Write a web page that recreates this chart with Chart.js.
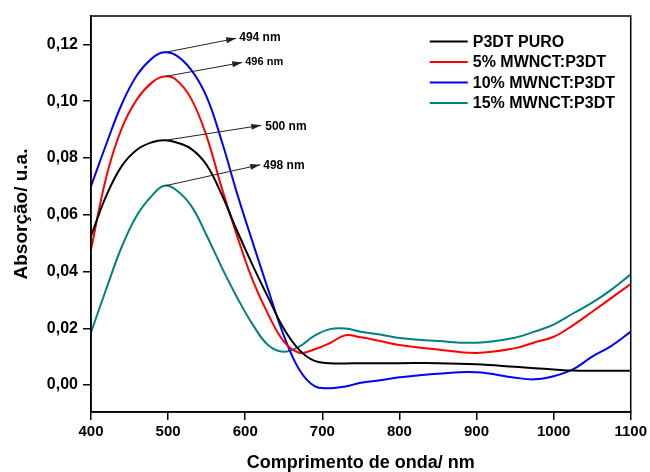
<!DOCTYPE html>
<html>
<head>
<meta charset="utf-8">
<script src="https://cdn.jsdelivr.net/npm/chart.js@4.4.1/dist/chart.umd.min.js"></script>
<style>
  html, body { margin: 0; padding: 0; background: #fff; }
  #wrap { width: 650px; height: 472px; }
</style>
</head>
<body>
<div id="wrap"><canvas id="myChart" width="650" height="472"></canvas></div>
<script>
// wavelength grid (nm) shared by all spectra
const wavelength = [400, 420, 440, 460, 480, 495, 510, 530, 550, 570, 590, 610, 630, 650, 670, 690, 710, 730, 750, 775, 800, 850, 900, 950, 975, 1000, 1025, 1050, 1075, 1100]

const p3dtPuro = [0.0525, 0.0668, 0.0772, 0.0830, 0.0856, 0.0862, 0.0855, 0.0832, 0.0775, 0.0668, 0.0540, 0.0420, 0.0307, 0.0199, 0.0124, 0.0085, 0.0077, 0.0076, 0.0077, 0.0077, 0.0077, 0.0077, 0.0073, 0.0064, 0.0059, 0.0055, 0.0051, 0.0050, 0.0050, 0.0050]
const mwnct5 = [0.0477, 0.0735, 0.0905, 0.1008, 0.1068, 0.1087, 0.1076, 0.1008, 0.0876, 0.0690, 0.0521, 0.0367, 0.0248, 0.0154, 0.0114, 0.0126, 0.0148, 0.0175, 0.0168, 0.0155, 0.0141, 0.0125, 0.0113, 0.0130, 0.0150, 0.0170, 0.0210, 0.0258, 0.0307, 0.0356]
const mwnct10 = [0.0700, 0.0850, 0.0990, 0.1093, 0.1153, 0.1172, 0.1162, 0.1110, 0.1015, 0.0855, 0.0670, 0.0500, 0.0334, 0.0175, 0.0055, -0.0004, -0.0011, -0.0005, 0.0008, 0.0017, 0.0027, 0.0040, 0.0045, 0.0026, 0.0020, 0.0031, 0.0055, 0.0100, 0.0138, 0.0188]
const mwnct15 = [0.0185, 0.0340, 0.0488, 0.0600, 0.0670, 0.0702, 0.0688, 0.0631, 0.0527, 0.0412, 0.0306, 0.0212, 0.0140, 0.0117, 0.0135, 0.0174, 0.0197, 0.0199, 0.0188, 0.0178, 0.0166, 0.0155, 0.0149, 0.0167, 0.0188, 0.0213, 0.0252, 0.0290, 0.0336, 0.0390]

const seriesNames = ['P3DT PURO', '5% MWNCT:P3DT', '10% MWNCT:P3DT', '15% MWNCT:P3DT']
const seriesColors = ['#000000', '#ff0000', '#0000ff', '#008080']
const peakLabels = ['500 nm', '496 nm', '494 nm', '498 nm']

const xTicks = [400, 500, 600, 700, 800, 900, 1000, 1100]
const yTicks = [0, 0.02, 0.04, 0.06, 0.08, 0.10, 0.12]

function toPoints(values){
  return values.map((v, i) => ({x: wavelength[i], y: v}))
}

const allSeries = [p3dtPuro, mwnct5, mwnct10, mwnct15]

// frame around plot area
const framePlugin = {
  id: 'frame',
  afterDraw(chart){
    const {ctx, chartArea} = chart
    ctx.save()
    ctx.strokeStyle = '#000'
    ctx.lineWidth = 1.5
    ctx.strokeRect(chartArea.left, chartArea.top, chartArea.right - chartArea.left, chartArea.bottom - chartArea.top)
    ctx.restore()
  }
}

// peak arrows + labels
const arrowOffsets = [[97, -15, 101, -14, 12], [78, -14, 81, -14, 11], [72, -14, 75, -15, 12], [96, -21, 99, -20, 12]]
const peakPlugin = {
  id: 'peaks',
  afterDatasetsDraw(chart){
    const ctx = chart.ctx
    ctx.save()
    allSeries.forEach((vals, i) => {
      const idx = vals.indexOf(Math.max(...vals))
      const pt = chart.getDatasetMeta(i).data[idx]
      const o = arrowOffsets[i]
      const x0 = pt.x + 1, y0 = pt.y
      const x1 = pt.x + o[0], y1 = pt.y + o[1]
      ctx.strokeStyle = '#222'
      ctx.fillStyle = '#222'
      ctx.lineWidth = 1
      ctx.beginPath()
      ctx.moveTo(x0, y0)
      ctx.lineTo(x1, y1)
      ctx.stroke()
      const ang = Math.atan2(y1 - y0, x1 - x0)
      ctx.beginPath()
      ctx.moveTo(x1, y1)
      ctx.lineTo(x1 - 10 * Math.cos(ang) + 3 * Math.sin(ang), y1 - 10 * Math.sin(ang) - 3 * Math.cos(ang))
      ctx.lineTo(x1 - 10 * Math.cos(ang) - 3 * Math.sin(ang), y1 - 10 * Math.sin(ang) + 3 * Math.cos(ang))
      ctx.closePath()
      ctx.fill()
      ctx.fillStyle = '#000'
      ctx.font = 'bold ' + o[4] + 'px Arial, "Liberation Sans", sans-serif'
      ctx.textBaseline = 'middle'
      ctx.textAlign = 'left'
      ctx.fillText(peakLabels[i], pt.x + o[2], pt.y + o[3])
    })
    ctx.restore()
  }
}

// legend inside top-right of the plot
const legendPlugin = {
  id: 'insideLegend',
  afterDraw(chart){
    const {ctx, chartArea} = chart
    ctx.save()
    chart.data.datasets.forEach((ds, i) => {
      const y = chartArea.top + 25.5 + i * 20.5
      ctx.strokeStyle = ds.borderColor
      ctx.lineWidth = 2
      ctx.beginPath()
      ctx.moveTo(chartArea.right - 201, y)
      ctx.lineTo(chartArea.right - 163, y)
      ctx.stroke()
      ctx.fillStyle = '#000'
      ctx.font = 'bold 16px Arial, "Liberation Sans", sans-serif'
      ctx.textBaseline = 'middle'
      ctx.textAlign = 'left'
      ctx.fillText(ds.label, chartArea.right - 158, y + 1)
    })
    ctx.restore()
  }
}

const ctx = document.getElementById('myChart')

new Chart(ctx, {
  type: 'line',
  data: {
    datasets: allSeries.map((vals, i) => ({
      label: seriesNames[i],
      data: toPoints(vals),
      borderColor: seriesColors[i],
      backgroundColor: seriesColors[i],
      borderWidth: 2,
      pointRadius: 0,
      tension: 0.4,
      fill: false
    }))
  },
  options: {
    responsive: false,
    devicePixelRatio: 1,
    animation: false,
    layout: { padding: { top: 16, right: 18, left: 0, bottom: 0 } },
    plugins: {
      legend: { display: false },
      tooltip: { enabled: false }
    },
    scales: {
      x: {
        type: 'linear',
        min: 400,
        max: 1100,
        afterBuildTicks: (scale) => { scale.ticks = xTicks.map(v => ({value: v})) },
        afterFit: (scale) => { scale.height = 60 },
        grid: { display: true, drawOnChartArea: false, drawTicks: true, tickLength: 8, color: '#000', lineWidth: 1.5 },
        border: { display: true, color: '#000', width: 1.5 },
        ticks: {
          color: '#000',
          padding: 3,
          maxRotation: 0,
          font: { family: 'Arial, "Liberation Sans", sans-serif', size: 15, weight: 'bold' },
          callback: (v) => String(v)
        },
        title: {
          display: true,
          text: 'Comprimento de onda/ nm',
          color: '#000',
          padding: { top: 0, bottom: 0 },
          font: { family: 'Arial, "Liberation Sans", sans-serif', size: 18, weight: 'bold', lineHeight: 1 }
        }
      },
      y: {
        min: -0.0095,
        max: 0.13,
        afterBuildTicks: (scale) => { scale.ticks = yTicks.map(v => ({value: v})) },
        afterFit: (scale) => { scale.width = 91 },
        grid: { display: true, drawOnChartArea: false, drawTicks: true, tickLength: 8, color: '#000', lineWidth: 1.5 },
        border: { display: true, color: '#000', width: 1.5 },
        ticks: {
          color: '#000',
          padding: 5,
          font: { family: 'Arial, "Liberation Sans", sans-serif', size: 16, weight: 'bold' },
          callback: (v) => v.toFixed(2).replace('.', ',')
        },
        title: {
          display: true,
          text: 'Absorção/ u.a.',
          color: '#000',
          padding: { top: 12, bottom: 0 },
          font: { family: 'Arial, "Liberation Sans", sans-serif', size: 19, weight: 'bold', lineHeight: 1 }
        }
      }
    }
  },
  plugins: [framePlugin, peakPlugin, legendPlugin]
});
</script>
</body>
</html>
